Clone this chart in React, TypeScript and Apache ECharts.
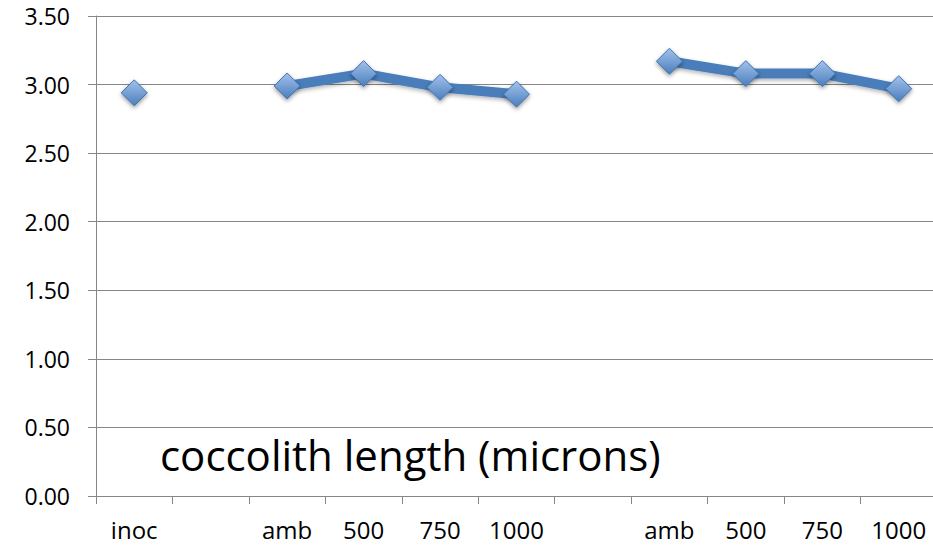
import React, { useEffect, useRef } from "react";
import * as echarts from "echarts";

const categories = ["inoc", "", "amb", "500", "750", "1000", "", "amb", "500", "750", "1000"];
const lengthValues: (number | null)[] = [2.94, null, 2.99, 3.08, 2.98, 2.93, null, 3.17, 3.08, 3.08, 2.97];
const yTicks = { min: 0, max: 3.5, interval: 0.5 };
const titleText = "coccolith length (microns)";

export default function App() {
  const ref = useRef<HTMLDivElement>(null);
  useEffect(() => {
    if (!ref.current) return;
    const chart = echarts.init(ref.current, null, { renderer: "svg" });
    const font = "'Open Sans', 'Noto Sans', sans-serif";
    chart.setOption({
      animation: false,
      backgroundColor: "#ffffff",
      grid: { left: 96, right: 0, top: 16, bottom: 49, containLabel: false },
      graphic: [
        {
          type: "text",
          left: 160,
          top: 433,
          style: { text: titleText, fontSize: 42, fontFamily: font, fill: "#000000" },
        },
      ],
      xAxis: {
        type: "category",
        data: categories,
        boundaryGap: true,
        axisLine: { lineStyle: { color: "#868686", width: 1 } },
        axisTick: { show: true, length: 8, lineStyle: { color: "#868686" }, interval: 0 },
        axisLabel: { interval: 0, margin: 21, fontSize: 24, fontFamily: font, color: "#000000" },
        splitLine: { show: false },
      },
      yAxis: {
        type: "value",
        min: yTicks.min,
        max: yTicks.max,
        interval: yTicks.interval,
        axisLine: { show: true, lineStyle: { color: "#868686", width: 1 } },
        axisTick: { show: true, length: 8, lineStyle: { color: "#868686" } },
        axisLabel: {
          margin: 26,
          fontSize: 23,
          fontFamily: font,
          color: "#000000",
          formatter: (v: number) => v.toFixed(2),
        },
        splitLine: { show: true, lineStyle: { color: "#868686", width: 1 } },
      },
      series: [
        {
          type: "line",
          data: lengthValues,
          connectNulls: false,
          symbol: "diamond",
          symbolSize: 26,
          lineStyle: {
            color: "#4a7ebb",
            width: 10,
            shadowColor: "rgba(0,0,0,0.3)",
            shadowBlur: 4,
            shadowOffsetY: 2,
          },
          itemStyle: {
            color: new echarts.graphic.LinearGradient(0, 0, 0, 1, [
              { offset: 0, color: "#a3c2ec" },
              { offset: 1, color: "#4a7ebb" },
            ]),
            borderColor: "#3f73b3",
            borderWidth: 1,
            shadowColor: "rgba(0,0,0,0.4)",
            shadowBlur: 4,
            shadowOffsetY: 2,
          },
          emphasis: { disabled: true },
          z: 3,
        },
      ],
    });
    return () => chart.dispose();
  }, []);
  return (
    <div style={{ position: "fixed", left: 0, top: 0, width: 933, height: 545, overflow: "hidden" }}>
      <div ref={ref} style={{ width: 937, height: 545 }} />
    </div>
  );
}
